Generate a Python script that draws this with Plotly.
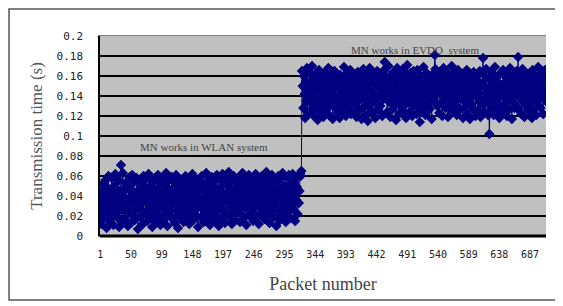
import plotly.graph_objects as go

# Transmission time in milliseconds
wlan_ms = [
    25,38,12,45,52,30,18,41,56,22,8,35,48,60,27,15,44,33,58,20,
    40,11,50,29,62,36,19,47,24,55,9,42,31,71,14,39,63,26,46,17,
    53,28,50,34,10,49,23,59,37,13,44,61,21,32,54,16,43,27,58,38,
    7,46,30,56,19,41,52,25,12,60,35,48,22,57,33,15,45,62,28,39,
    50,18,43,9,55,31,24,58,37,14,47,26,61,20,40,53,11,34,57,29,
    44,16,52,38,23,63,30,10,48,35,56,21,42,27,59,17,46,33,54,13,
    39,61,25,50,8,45,32,57,19,41,28,55,36,14,49,24,60,31,43,18,
    53,37,12,58,29,46,22,62,34,16,51,40,26,57,20,44,9,55,30,47,
    35,19,60,27,48,14,52,38,23,63,31,45,17,56,41,11,50,28,59,36,
    21,54,42,15,47,33,61,25,39,10,57,30,49,18,44,62,27,53,36,13,
    58,40,22,51,34,64,19,46,29,55,12,43,37,60,24,48,16,56,32,41,
    26,59,45,14,52,38,21,63,30,47,18,55,35,11,50,42,27,61,33,20,
    48,57,24,39,15,53,44,29,62,36,19,51,41,12,58,31,46,23,60,37,
    28,55,17,49,40,64,22,45,33,58,13,52,38,26,61,34,47,19,56,43,
    31,10,54,39,60,25,48,16,57,42,29,63,35,21,50,44,14,59,32,46,
    24,61,38,52,18,47,30,62,27,55,41,15,58,36,49,22,60,33,45,62,
    60,65,
]
evdo_ms = [
    165,150,128,160,142,118,155,135,168,122,147,138,163,125,152,140,170,131,158,120,
    145,162,127,153,136,116,149,166,133,157,124,143,160,138,119,151,130,164,146,126,
    155,137,168,121,148,159,132,165,143,117,154,139,165,128,150,162,134,123,157,141,
    118,161,146,130,156,125,152,169,136,144,120,158,133,163,127,149,140,166,122,153,
    137,159,124,147,161,131,155,119,142,164,135,150,126,160,145,117,157,138,167,129,
    148,121,162,140,154,115,151,133,168,127,145,158,136,123,163,141,152,118,156,132,
    165,139,126,149,161,130,160,143,120,155,137,166,174,150,142,159,124,147,170,134,
    153,119,160,138,145,127,164,131,156,142,116,151,168,135,148,122,158,140,162,129,
    144,167,125,154,136,161,118,149,171,133,157,141,124,163,139,152,120,146,165,130,
    158,137,150,122,166,143,129,155,114,147,160,134,152,126,169,140,156,121,145,163,
    131,153,139,150,127,148,159,117,144,162,135,151,181,167,141,156,130,149,164,123,
    146,160,133,155,120,142,168,136,152,128,165,140,157,119,147,161,134,150,126,170,
    138,154,124,163,145,131,158,121,149,166,137,148,143,127,155,140,162,118,151,135,
    129,157,143,166,122,150,136,161,117,145,158,132,153,127,164,141,148,120,156,139,
    160,126,147,134,165,119,152,140,163,178,131,155,124,149,167,137,144,121,158,102,
    135,150,164,128,146,157,121,141,169,133,154,125,160,138,147,118,162,130,151,143,
    124,166,139,153,131,159,145,120,163,136,149,127,168,142,155,117,150,134,161,128,
    157,143,130,165,148,179,126,152,138,160,122,146,167,134,155,119,141,163,129,151,
    140,162,125,149,133,158,144,118,166,137,152,127,161,143,121,156,135,169,130,147,
    155,128,163,139,150,122,158,143,166,135,
]

times_s = [v / 1000 for v in wlan_ms + evdo_ms]
packets = list(range(1, len(times_s) + 1))

x_tick_vals = [1, 50, 99, 148, 197, 246, 295, 344, 393, 442, 491, 540, 589, 638, 687]
y_tick_vals = [0, 0.02, 0.04, 0.06, 0.08, 0.1, 0.12, 0.14, 0.16, 0.18, 0.2]
y_tick_text = ["0", "0.02", "0.04", "0.06", "0.08", "0.1", "0.12", "0.14", "0.16", "0.18", "0.2"]

navy = "#000080"

fig = go.Figure()
fig.add_trace(go.Scatter(
    x=packets, y=times_s, mode="lines+markers",
    line=dict(color=navy, width=1),
    marker=dict(symbol="diamond", size=8, color=navy, line=dict(width=0)),
    showlegend=False,
))

fig.update_layout(
    width=555, height=298,
    margin=dict(l=92, r=17, t=28, b=70),
    paper_bgcolor="white",
    plot_bgcolor="#C0C0C0",
    font=dict(family="Liberation Serif", color="#333333"),
    xaxis=dict(
        range=[0.5, len(packets) + 0.5],
        tickmode="array", tickvals=x_tick_vals,
        ticktext=[str(v) for v in x_tick_vals],
        tickfont=dict(family="DejaVu Sans Mono", size=10, color="#222222"),
        ticklabelstandoff=9,
        showgrid=False, zeroline=False,
        showline=True, linecolor="#808080", linewidth=1, mirror=True,
        ticks="", ticklen=0,
        title=dict(text="Packet number", font=dict(family="Liberation Serif", size=18, color="#444444"), standoff=18),
    ),
    yaxis=dict(
        range=[0, 0.2],
        tickmode="array", tickvals=y_tick_vals, ticktext=y_tick_text,
        tickfont=dict(family="DejaVu Sans Mono", size=11, color="#222222"),
        ticklabelstandoff=13,
        showgrid=True, gridcolor="#000000", gridwidth=1.5,
        zeroline=False,
        showline=True, linecolor="#000000", linewidth=1.5, mirror=False,
        ticks="", ticklen=0,
        title=dict(text="Transmission time (s)", font=dict(family="Liberation Serif", size=17, color="#555555"), standoff=10),
    ),
    shapes=[
        dict(type="line", xref="paper", yref="paper", x0=0, x1=1, y0=0, y1=0,
             line=dict(color="#000000", width=3)),
        dict(type="rect", xref="paper", yref="paper",
             x0=-0.204, x1=1.0224, y0=-0.32, y1=1.135,
             line=dict(color="#555555", width=1.5), layer="below"),
    ],
    annotations=[
        dict(x=167, y=0.089, xref="x", yref="y", text="MN works in WLAN system",
             showarrow=False, font=dict(family="Liberation Serif", size=11, color="#444444")),
        dict(x=503, y=0.186, xref="x", yref="y", text="MN works in EVDO  system",
             showarrow=False, font=dict(family="Liberation Serif", size=11, color="#444444")),
    ],
)

fig.write_html("out.html")
